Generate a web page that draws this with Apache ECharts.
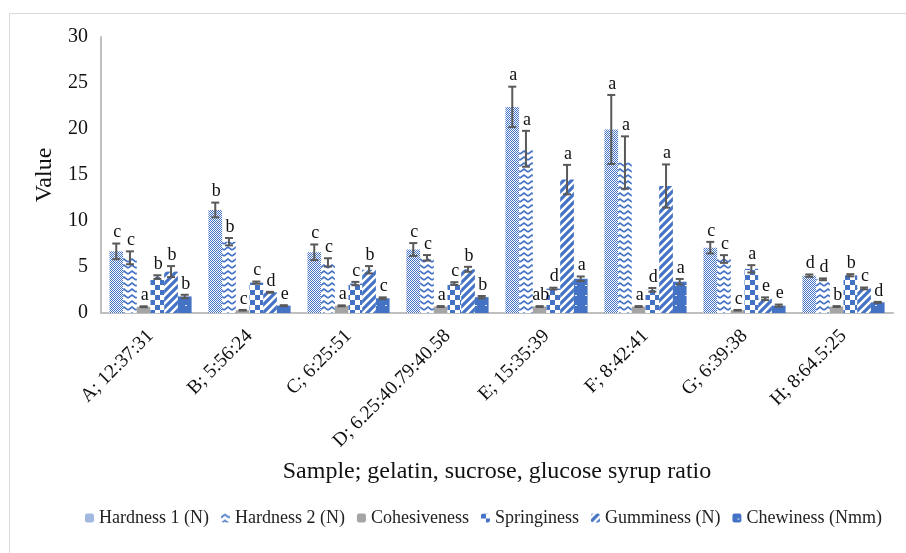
<!DOCTYPE html>
<html>
<head>
<meta charset="utf-8">
<script src="https://cdn.jsdelivr.net/npm/echarts@6/dist/echarts.min.js"></script>
<style>html,body{margin:0;padding:0;background:#fff;}#c{width:906px;height:553px;}</style>
</head>
<body>
<div id="c"></div>
<script>
var categories = ['A; 12:37:31','B; 5:56:24','C; 6:25:51','D; 6.25:40.79:40.58','E; 15:35:39','F; 8:42:41','G; 6:39:38','H; 8:64.5:25'];
var seriesNames = ['Hardness 1 (N)','Hardness 2 (N)','Cohesiveness','Springiness','Gumminess (N)','Chewiness (Nmm)'];
var hardness1 = [6.7, 11.2, 6.6, 6.9, 22.4, 19.95, 7.1, 4.06];
var hardness1Err = [0.85, 0.8, 0.85, 0.7, 2.2, 3.75, 0.63, 0.13];
var hardness1Let = ['c','b','c','c','a','a','c','d'];
var hardness2 = [6.0, 7.75, 5.5, 6.0, 17.85, 16.35, 5.87, 3.66];
var hardness2Err = [0.7, 0.4, 0.45, 0.3, 1.95, 2.85, 0.42, 0.1];
var hardness2Let = ['c','b','c','c','a','a','c','d'];
var cohesiveness = [0.68, 0.3, 0.78, 0.7, 0.7, 0.7, 0.3, 0.7];
var cohesivenessErr = [0.05, 0.03, 0.05, 0.05, 0.05, 0.05, 0.03, 0.05];
var cohesivenessLet = ['a','c','a','a','ab','a','c','b'];
var springiness = [3.9, 3.3, 3.2, 3.2, 2.65, 2.52, 4.8, 4.1];
var springinessErr = [0.2, 0.12, 0.18, 0.15, 0.1, 0.2, 0.4, 0.12];
var springinessLet = ['b','c','c','c','d','d','a','b'];
var gumminess = [4.5, 2.25, 4.7, 4.75, 14.5, 13.8, 1.55, 2.67];
var gumminessErr = [0.6, 0.05, 0.4, 0.27, 1.6, 2.35, 0.15, 0.1];
var gumminessLet = ['b','d','b','b','a','a','e','c'];
var chewiness = [1.8, 0.8, 1.6, 1.72, 3.72, 3.4, 0.8, 1.16];
var chewinessErr = [0.18, 0.05, 0.1, 0.13, 0.25, 0.3, 0.12, 0.05];
var chewinessLet = ['b','e','c','b','a','a','e','d'];
var yTicks = [0, 5, 10, 15, 20, 25, 30];

var BLUE = '#4472C4';
function mk(w, h, draw) {
  var c = document.createElement('canvas'); c.width = w; c.height = h;
  var g = c.getContext('2d'); g.fillStyle = '#fff'; g.fillRect(0, 0, w, h);
  draw(g); return c;
}
var patH1 = mk(2, 2, function (g) { g.fillStyle = BLUE; g.fillRect(0,0,1,1); g.fillRect(1,1,1,1); });
var patH2 = mk(8, 6, function (g) { g.strokeStyle = BLUE; g.lineWidth = 1.6; g.beginPath(); g.moveTo(0,4); g.lineTo(4,1); g.lineTo(8,4); g.stroke(); });
var patSp = mk(10, 10, function (g) { g.fillStyle = BLUE; g.fillRect(0,0,5,5); g.fillRect(5,5,5,5); });
var patGu = mk(8, 8, function (g) { g.strokeStyle = BLUE; g.lineWidth = 3.2; g.beginPath(); g.moveTo(0,8); g.lineTo(8,0); g.moveTo(-4,4); g.lineTo(4,-4); g.moveTo(4,12); g.lineTo(12,4); g.stroke(); });
var patCh = mk(10, 10, function (g) { g.fillStyle = BLUE; g.fillRect(0,0,10,10); g.fillStyle = '#e6ecf7'; g.fillRect(5,5,2,1); });
var fills = [
  {image: patH1, repeat: 'repeat'},
  {image: patH2, repeat: 'repeat'},
  '#A5A5A5',
  {image: patSp, repeat: 'repeat'},
  {image: patGu, repeat: 'repeat'},
  {image: patCh, repeat: 'repeat'}
];
var vals = [hardness1, hardness2, cohesiveness, springiness, gumminess, chewiness];
var errs = [hardness1Err, hardness2Err, cohesivenessErr, springinessErr, gumminessErr, chewinessErr];
var lets = [hardness1Let, hardness2Let, cohesivenessLet, springinessLet, gumminessLet, chewinessLet];
var CAT_GAP = 0.17, N = 6;
var FONT = '"Liberation Serif", "Times New Roman", serif';

var series = [];
vals.forEach(function (v, i) {
  series.push({
    name: seriesNames[i], type: 'bar', data: v, barGap: '0%', barCategoryGap: (CAT_GAP*100)+'%',
    itemStyle: {color: fills[i]}, z: 2
  });
});
vals.forEach(function (v, i) {
  var data = v.map(function (val, k) { return [k, val, errs[i][k], lets[i][k]]; });
  series.push({
    type: 'custom', data: data, z: 5, silent: true, legendHoverLink: false,
    renderItem: function (params, api) {
      var k = api.value(0), val = api.value(1), e = api.value(2);
      var band = api.size([1, 0])[0];
      var usable = band * (1 - CAT_GAP);
      var bw = usable / N;
      var cx = api.coord([k, val])[0] - usable / 2 + (i + 0.5) * bw;
      var yt = api.coord([k, val + e])[1];
      var yb = api.coord([k, val - e])[1];
      var cap = 4;
      var st = {stroke: '#595959', lineWidth: 2};
      return {type: 'group', children: [
        {type: 'line', shape: {x1: cx, y1: yt, x2: cx, y2: yb}, style: st},
        {type: 'line', shape: {x1: cx - cap, y1: yt, x2: cx + cap, y2: yt}, style: st},
        {type: 'line', shape: {x1: cx - cap, y1: yb, x2: cx + cap, y2: yb}, style: st},
        {type: 'text', style: {text: data[k][3], x: cx + 1, y: yt - 2, textAlign: 'center', textVerticalAlign: 'bottom', fill: '#111', font: '18px ' + FONT}}
      ]};
    }
  });
});

var chart = echarts.init(document.getElementById('c'), null, {renderer: 'canvas'});
chart.setOption({
  animation: false,
  backgroundColor: '#fff',
  graphic: [{type: 'rect', shape: {x: 9.5, y: 13.5, width: 1000, height: 1000}, style: {fill: 'none', stroke: '#D9D9D9', lineWidth: 1}, z: -10}],
  grid: {left: 101, right: 13, top: 37, bottom: 240},
  legend: {
    data: seriesNames, top: 504, left: 80, width: 840, itemWidth: 9, itemHeight: 9, itemGap: 12,
    textStyle: {fontFamily: FONT, fontSize: 18, color: '#222'}
  },
  xAxis: {
    type: 'category', data: categories,
    name: 'Sample; gelatin, sucrose, glucose syrup ratio', nameLocation: 'middle', nameGap: 147,
    nameTextStyle: {fontFamily: FONT, fontSize: 24, color: '#111'},
    axisLine: {lineStyle: {color: '#BFBFBF', width: 2}},
    axisTick: {show: false},
    axisLabel: {interval: 0, rotate: 45, fontFamily: FONT, fontSize: 19.5, color: '#111', margin: 20}
  },
  yAxis: {
    type: 'value', min: yTicks[0], max: yTicks[yTicks.length-1], interval: 5,
    name: 'Value', nameLocation: 'middle', nameGap: 34,
    nameTextStyle: {fontFamily: FONT, fontSize: 24, color: '#111'},
    axisLine: {show: true, lineStyle: {color: '#BFBFBF', width: 2}},
    axisTick: {show: false}, splitLine: {show: false},
    axisLabel: {fontFamily: FONT, fontSize: 20, color: '#111', margin: 13}
  },
  series: series
});
</script>
</body>
</html>
